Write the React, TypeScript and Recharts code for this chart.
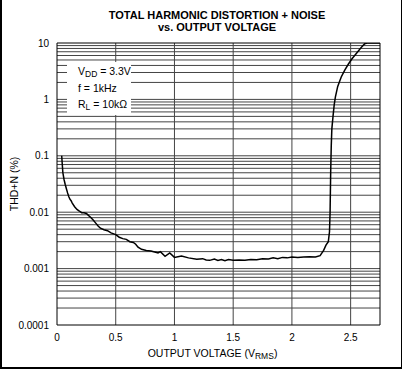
import { LineChart, Line, XAxis, YAxis, ReferenceLine, Label } from "recharts";

const voltage = [
    0.04, 0.045, 0.05, 0.06, 0.07, 0.08, 0.09, 0.1, 0.11, 0.12, 0.13, 0.15, 0.17, 0.19, 0.21, 0.23, 0.25, 0.27,
    0.29, 0.31, 0.33, 0.35, 0.37, 0.4, 0.43, 0.46, 0.5, 0.53, 0.56, 0.59, 0.62, 0.65, 0.67, 0.69, 0.72, 0.76,
    0.8, 0.84, 0.86, 0.88, 0.92, 0.96, 1.0, 1.06, 1.12, 1.19, 1.24, 1.27, 1.3, 1.34, 1.37, 1.4, 1.43, 1.46,
    1.5, 1.55, 1.6, 1.65, 1.7, 1.75, 1.8, 1.84, 1.88, 1.92, 1.96, 2.0, 2.05, 2.1, 2.15, 2.2, 2.24, 2.27, 2.29,
    2.31, 2.32, 2.325, 2.33, 2.335, 2.34, 2.35, 2.36, 2.37, 2.39, 2.42, 2.45, 2.48, 2.51, 2.55, 2.59, 2.62,
    2.64, 2.75,
];
const thdn = [
    0.1, 0.07, 0.05, 0.038, 0.031, 0.026, 0.022, 0.019, 0.017, 0.016, 0.0145, 0.0125, 0.0112, 0.0105, 0.0098,
    0.0098, 0.0095, 0.0087, 0.008, 0.0072, 0.0064, 0.0057, 0.0052, 0.0049, 0.0047, 0.0043, 0.004, 0.0036,
    0.0034, 0.0033, 0.003, 0.0029, 0.0027, 0.0024, 0.0022, 0.0021, 0.00205, 0.00195, 0.0019, 0.002, 0.00165,
    0.0019, 0.00158, 0.00167, 0.00155, 0.00146, 0.0015, 0.00142, 0.0014, 0.00148, 0.0014, 0.00145, 0.00138,
    0.00145, 0.0014, 0.00142, 0.0014, 0.00145, 0.00143, 0.0015, 0.00148, 0.00155, 0.0015, 0.00158, 0.00155,
    0.0016, 0.00158, 0.0016, 0.00162, 0.0016, 0.0017, 0.0021, 0.0026, 0.003, 0.0045, 0.01, 0.05, 0.15, 0.3,
    0.5, 0.8, 1.1, 1.7, 2.5, 3.3, 4.2, 5.2, 6.6, 8.3, 9.7, 10, 10,
];

const xTicks = [0, 0.5, 1, 1.5, 2, 2.5];
const yTicks = [0.0001, 0.001, 0.01, 0.1, 1, 10];

const data = voltage.map((v, i) => ({ v, thd: thdn[i] }));

// minor log gridlines, 1..9 per decade
const yGrid: number[] = [];
yTicks.slice(0, -1).forEach((d) => {
    for (let k = 1; k < 10; k++) yGrid.push(Number((k * d).toPrecision(3)));
});

const FONT = "'Liberation Sans', Arial, sans-serif";

// title + conditions box, drawn over the chart so the box hides the grid
const Notes = () => (
    <svg
        width={402}
        height={369}
        style={{ position: "absolute", left: 0, top: 0, pointerEvents: "none" }}
        fontFamily={FONT}
        fill="#000"
    >
        <text x={217} y={19} textAnchor="middle" fontSize={11} fontWeight="bold">
            TOTAL HARMONIC DISTORTION + NOISE
        </text>
        <text x={217} y={31} textAnchor="middle" fontSize={11} fontWeight="bold">
            vs. OUTPUT VOLTAGE
        </text>
        <rect x={67} y={62} width={64} height={53} fill="#fff" />
        <text x={78} y={75} fontSize={10.5}>
            V<tspan fontSize={8.5} dy={2}>DD</tspan>
            <tspan dy={-2}> = 3.3V</tspan>
        </text>
        <text x={78} y={92} fontSize={10.5}>
            f = 1kHz
        </text>
        <text x={78} y={108} fontSize={10.5}>
            R<tspan fontSize={8.5} dy={2}>L</tspan>
            <tspan dy={-2}> = 10kΩ</tspan>
        </text>
    </svg>
);

const XLabel = ({ viewBox }: any) => (
    <text x={viewBox.x + viewBox.width / 2 - 6} y={357} textAnchor="middle" fontSize={10.5} fontFamily={FONT}>
        OUTPUT VOLTAGE (V<tspan fontSize={8.5} dy={2}>RMS</tspan>
        <tspan dy={-2}>)</tspan>
    </text>
);

const YLabel = ({ viewBox }: any) => {
    const cy = viewBox.y + viewBox.height / 2;
    return (
        <text
            x={18}
            y={cy}
            textAnchor="middle"
            fontSize={10.5}
            fontFamily={FONT}
            transform={`rotate(-90 18 ${cy})`}
        >
            THD+N (%)
        </text>
    );
};

export default function App() {
    return (
        <div style={{ position: "absolute", left: 0, top: 0, width: 402, height: 369, background: "#fff" }}>
            <LineChart width={402} height={369} data={data} margin={{ top: 43, right: 22, left: 0, bottom: 0 }}>
                <XAxis
                    dataKey="v"
                    type="number"
                    domain={[0, 2.75]}
                    ticks={xTicks}
                    height={44}
                    axisLine={{ stroke: "#000" }}
                    tickLine={false}
                    tickSize={0}
                    tickMargin={9}
                    tick={{ fontSize: 10, fill: "#000", fontFamily: FONT }}
                    allowDataOverflow
                >
                    <Label content={<XLabel />} />
                </XAxis>
                <YAxis
                    type="number"
                    scale="log"
                    domain={[0.0001, 10]}
                    ticks={yTicks}
                    width={57}
                    axisLine={{ stroke: "#000" }}
                    tickLine={false}
                    tickSize={0}
                    tickMargin={8}
                    tickFormatter={(t: number) => String(t)}
                    tick={{ fontSize: 10, fill: "#000", fontFamily: FONT }}
                    allowDataOverflow
                >
                    <Label content={<YLabel />} />
                </YAxis>
                {yGrid.slice(1).map((g) => (
                    <ReferenceLine key={`h${g}`} y={g} stroke="#444" strokeWidth={1} />
                ))}
                {xTicks.slice(1).map((t) => (
                    <ReferenceLine key={`v${t}`} x={t} stroke="#444" strokeWidth={1} />
                ))}
                <ReferenceLine x={2.75} stroke="#000" />
                <ReferenceLine y={10} stroke="#000" />
                <Line
                    type="linear"
                    dataKey="thd"
                    stroke="#000"
                    strokeWidth={1.5}
                    dot={false}
                    isAnimationActive={false}
                />
            </LineChart>
            <Notes />
            <div
                style={{
                    position: "absolute",
                    left: 0,
                    top: 0,
                    width: 399,
                    height: 367,
                    borderLeft: "2px solid #000",
                    borderRight: "2px solid #000",
                    borderBottom: "2px solid #000",
                    pointerEvents: "none",
                }}
            />
        </div>
    );
}
